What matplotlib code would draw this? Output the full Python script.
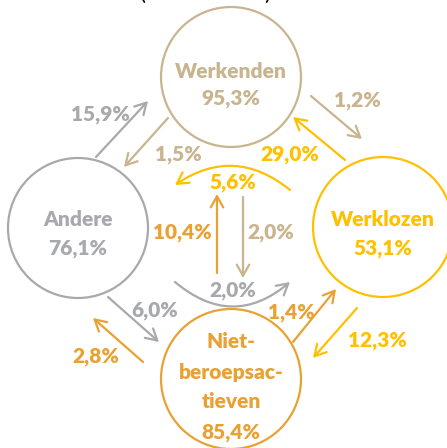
import matplotlib
matplotlib.use("Agg")
import matplotlib.pyplot as plt
from matplotlib.patches import Circle, FancyArrowPatch, ArrowStyle

# --- data -------------------------------------------------------------
node_names = ["Werkenden", "Andere", "Werklozen", "Niet-\nberoepsac-\ntieven"]
node_values = ["95,3%", "76,1%", "53,1%", "85,4%"]

# flows: (label, colour key)
flow_labels = ["15,9%", "1,5%", "1,2%", "29,0%", "5,6%", "10,4%", "2,0%",
               "2,0%", "6,0%", "2,8%", "1,4%", "12,3%"]
flow_colors = ["grey", "tan", "tan", "yellow", "yellow", "orange", "tan",
               "grey", "grey", "orange", "orange", "yellow"]
node_colors = ["tan", "grey", "yellow", "orange"]

palette = {"tan": "#C8B48F", "grey": "#A7A9AC", "yellow": "#FFC000", "orange": "#E9A134"}

# --- layout (pixels, y down) -----------------------------------------
node_xy = [(231, 77), (78, 228), (383, 227), (231, 379)]
node_r = 70

# arrow start, end, curvature, label position
arrows = [
    ((96, 157), (148, 101), 0, (100, 115)),
    ((168, 118), (124, 167), 0, (178, 154)),
    ((311, 96), (362, 139), 0, (357, 100)),
    ((345, 160), (293, 117), 0, (290, 155)),
    ((290, 190), (175, 185), 0.37, (233, 182)),
    ((217, 273), (217, 194), 0, (182, 233)),
    ((243, 197), (243, 278), 0, (271, 233)),
    ((175, 282), (290, 282), 0.42, (233, 290)),
    ((108, 297), (159, 342), 0, (155, 310)),
    ((143, 362), (93, 318), 0, (96, 357)),
    ((293, 342), (336, 289), 0, (291, 312)),
    ((357, 308), (313, 358), 0, (377, 340)),
]

plt.rcParams["font.family"] = ["Lato", "DejaVu Sans"]
fs = 15
fw = "heavy"

fig = plt.figure(figsize=(4.47, 4.48), dpi=100)
ax = fig.add_axes([0, 0, 1, 1])
ax.set_xlim(0, 447)
ax.set_ylim(448, 0)
ax.axis("off")

for i, (cx, cy) in enumerate(node_xy):
    c = palette[node_colors[i]]
    ax.add_patch(Circle((cx, cy), node_r, fill=False, ec=c, lw=1.6))
    if i < 3:
        ax.text(cx, 71 if i == 0 else 220, node_names[i], color=c, fontsize=fs,
                fontweight=fw, ha="center", va="center")
        ax.text(cx, 99 if i == 0 else 249, node_values[i], color=c, fontsize=fs,
                fontweight=fw, ha="center", va="center")
    else:
        lines = node_names[i].split("\n") + [node_values[i]]
        for k, line in enumerate(lines):
            ax.text(cx, 342 + k * 30, line, color=c, fontsize=fs,
                    fontweight=fw, ha="center", va="center")

style = ArrowStyle("->", head_length=8, head_width=4.5)
for (start, end, rad, lab), text, ck in zip(arrows, flow_labels, flow_colors):
    c = palette[ck]
    ax.add_patch(FancyArrowPatch(start, end, arrowstyle=style,
                                 connectionstyle=f"arc3,rad={rad}",
                                 color=c, lw=1.6, mutation_scale=1,
                                 shrinkA=0, shrinkB=0))
    ax.text(lab[0], lab[1], text, color=c, fontsize=fs, fontweight=fw,
            ha="center", va="center")

# clipped heading brackets at the top edge
ax.text(143, -6, "(", fontsize=16, ha="center", va="center", color="black")
ax.text(267, -6, ")", fontsize=16, ha="center", va="center", color="black")

fig.savefig("out.png", dpi=100)
